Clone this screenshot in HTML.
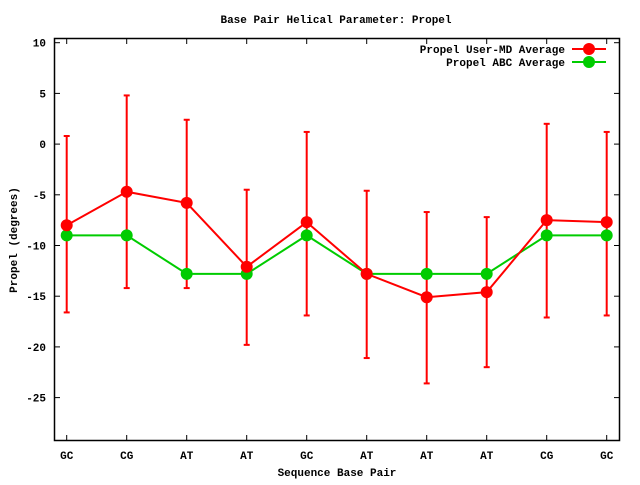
<!DOCTYPE html>
<html><head><meta charset="utf-8"><style>
body{margin:0;background:#fff}
svg text{font-family:"Liberation Mono",monospace;font-size:11px;font-weight:bold;fill:#000}
</style></head><body>
<svg id="c" width="640" height="480" xmlns="http://www.w3.org/2000/svg">
<text x="336" y="23" text-anchor="middle">Base Pair Helical Parameter: Propel</text>
<rect x="54.5" y="38.5" width="565" height="402" fill="none" stroke="#000" stroke-width="1.5"/>
<g id="axes"></g><g id="series"></g>
<text x="337" y="476" text-anchor="middle">Sequence Base Pair</text>
<text transform="translate(17,240) rotate(-90)" text-anchor="middle">Propel (degrees)</text>
<g>
<text x="565" y="53" text-anchor="end">Propel User-MD Average</text>
<line x1="572" y1="49" x2="606" y2="49" stroke="#f00" stroke-width="2"/><circle cx="589" cy="49" r="6" fill="#f00"/>
<text x="565" y="66" text-anchor="end">Propel ABC Average</text>
<line x1="572" y1="62" x2="606" y2="62" stroke="#0c0" stroke-width="2"/><circle cx="589" cy="62" r="6" fill="#0c0"/>
</g>
</svg>
<script>
const categories=["GC","CG","AT","AT","GC","AT","AT","AT","CG","GC"];
const userMD=[-8.0,-4.7,-5.8,-12.1,-7.7,-12.8,-15.1,-14.6,-7.5,-7.7];
const errHigh=[0.8,4.8,2.4,-4.5,1.2,-4.6,-6.7,-7.2,2.0,1.2];
const errLow=[-16.6,-14.2,-14.2,-19.8,-16.9,-21.1,-23.6,-22.0,-17.1,-16.9];
const abc=[-9.0,-9.0,-12.8,-12.8,-9.0,-12.8,-12.8,-12.8,-9.0,-9.0];
const yTicks=[10,5,0,-5,-10,-15,-20,-25];
const NS="http://www.w3.org/2000/svg";
const X=i=>66.7+i*60;
const Y=v=>144.1-v*10.14;
function mk(t,a,p){const e=document.createElementNS(NS,t);for(const k in a)e.setAttribute(k,a[k]);p.appendChild(e);return e;}
const ax=document.getElementById('axes'),sr=document.getElementById('series');
yTicks.forEach(v=>{
 const y=Y(v);
 const l=mk('line',{x1:54.5,x2:60,y1:y,y2:y,stroke:'#000'},ax);
 
 
 const l2=mk('line',{x1:614,x2:619.5,y1:y,y2:y,stroke:'#000'},ax);
 const t=mk('text',{x:46,y:y+4,'text-anchor':'end'},ax);t.textContent=v;
 
 
});
categories.forEach((c,i)=>{
 const x=X(i);
 mk('line',{x1:x,x2:x,y1:440.5,y2:435,stroke:'#000'},ax);
 mk('line',{x1:x,x2:x,y1:38.5,y2:44,stroke:'#000'},ax);
 const t=mk('text',{x:x,y:459,'text-anchor':'middle'},ax);t.textContent=c;
 
 
});
// error bars
categories.forEach((c,i)=>{
 const x=X(i),g=mk('g',{stroke:'#f00','stroke-width':2},sr);
 
 
 mk('line',{x1:x,x2:x,y1:Y(errHigh[i]),y2:Y(errLow[i])},g);
 mk('line',{x1:x-3,x2:x+3,y1:Y(errHigh[i]),y2:Y(errHigh[i])},g);
 mk('line',{x1:x-3,x2:x+3,y1:Y(errLow[i]),y2:Y(errLow[i])},g);
});
function series(vals,col,name){
 const p=mk('polyline',{points:vals.map((v,i)=>X(i)+','+Y(v)).join(' '),fill:'none',stroke:col,'stroke-width':2},sr);
 
 
 vals.forEach((v,i)=>{
  const d=mk('circle',{cx:X(i),cy:Y(v),r:6,fill:col},sr);
  
  
 });
}
series(abc,'#0c0','abc-average');
series(userMD,'#f00','user-md-average');
</script>
</body></html>
